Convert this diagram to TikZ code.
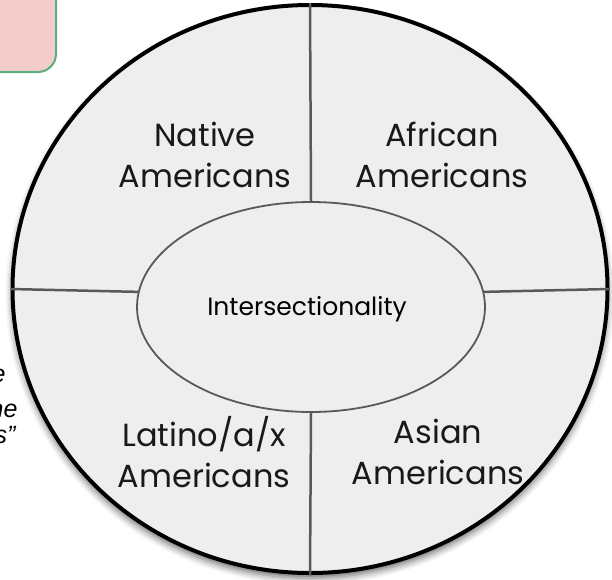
\documentclass[tikz,border=0pt]{standalone}
\usepackage{fontspec}
\setmainfont{Poppins}
\newfontfamily\notefont{Liberation Sans}
\usetikzlibrary{shapes.geometric, shadows.blur}

\begin{document}
\begin{tikzpicture}[x=1pt, y=-1pt,
    wheel/.style={ellipse, draw=black, line width=4pt, fill=wheelcolor, minimum width=595pt, minimum height=568pt, inner sep=0pt,
      blur shadow={shadow xshift=0pt, shadow yshift=-5pt, shadow blur radius=7pt, shadow opacity=60}},
    core/.style={ellipse, draw=linecolor, line width=1.8pt, minimum width=348pt, minimum height=210pt, inner sep=0pt},
    group/.style={align=center, font=\fontsize{32}{41}\selectfont, text=black!90},
    divider/.style={draw=linecolor, line width=2.5pt},
    note/.style={anchor=base east, font=\notefont\itshape\fontsize{25}{27}\selectfont}]

    % Define colors
    \definecolor{wheelcolor}{RGB}{238,238,238}
    \definecolor{linecolor}{RGB}{89,89,89}
    \definecolor{boxcolor}{RGB}{244,204,204}
    \definecolor{boxline}{RGB}{91,174,126}

    \useasboundingbox (0,0) rectangle (612,579);

    % Box cut off at the corner
    \draw[boxline, line width=2pt, fill=boxcolor, rounded corners=18pt] (-40,-40) rectangle (56,72);

    % Notes cut off at the edge
    \node[note] (note1) at (9,382) {e};
    \node[note] (note2) at (21,417) {he};
    \node[note] (note3) at (19,443) {s”};

    % Nodes
    \node[wheel] (wheel) at (310,289) {};
    \node[core] (core) at (311,307) {};

    % Dividing lines
    \draw[divider] (wheel.north) -- (core.north);
    \draw[divider] (core.south) -- (wheel.south);
    \draw[divider] (wheel.west) -- (core.175);
    \draw[divider] (core.5) -- (wheel.east);

    % Labels
    \node[group] (native) at (205,155) {Native\\Americans};
    \node[group] (african) at (442,155) {African\\Americans};
    \node[group] (latino) at (204,452) {Latino/a/x\\Americans};
    \node[group] (asian) at (438,452) {Asian\\Americans};
    \node[font=\fontsize{25}{30}\selectfont] (inter) at (307,309) {Intersectionality};

\end{tikzpicture}
\end{document}
